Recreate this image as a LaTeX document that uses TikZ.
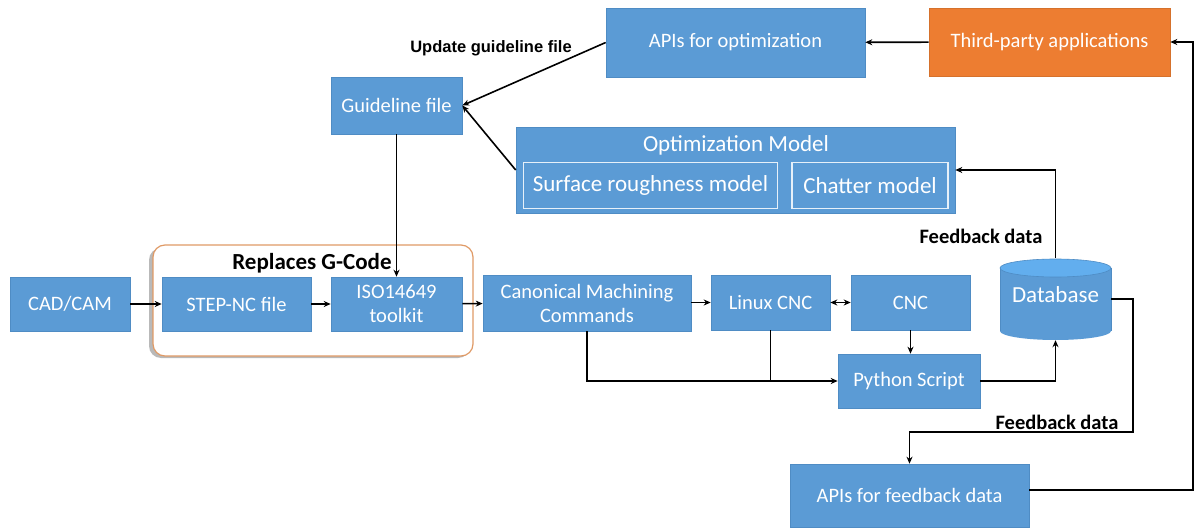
\documentclass[tikz,border=0pt]{standalone}
\usepackage{fontspec}
\setmainfont{Carlito}
\newfontfamily\labelsans{Liberation Sans}
\usetikzlibrary{arrows.meta,calc}
\definecolor{boxblue}{HTML}{5B9BD5}
\definecolor{boxedge}{HTML}{4F8CC4}
\definecolor{boxorange}{HTML}{ED7D31}
\definecolor{groupedge}{HTML}{E09A66}
\definecolor{dbtop}{HTML}{62AEEE}
\tikzset{
  blk/.style={fill=boxblue, draw=boxedge, line width=0.6pt, text=white, inner sep=0pt,
    align=center, font=\fontsize{20.5}{24}\selectfont},
  innerblk/.style={draw=white!85!boxblue, line width=1.6pt, fill=boxblue, text=white,
    inner sep=0pt, align=center, font=\fontsize{23}{26}\selectfont},
  conn/.style={draw=black, line width=1.6pt},
  arr/.style={conn, -{Stealth[length=7pt,width=6pt]}},
  boldlbl/.style={font=\bfseries\fontsize{20.5}{23}\selectfont, text=black, inner sep=0pt},
}
\begin{document}
\begin{tikzpicture}[x=1pt,y=-1pt]
\useasboundingbox (0,0) rectangle (1196,529);
\fill[white] (0,0) rectangle (1196,529);

% group frame around the STEP-NC chain
\fill[gray!55, rounded corners=12pt] (149,248) rectangle (470,358);
\draw[groupedge, line width=1.2pt, fill=white, rounded corners=12pt] (153,245) rectangle (473,356);
\node[font=\bfseries\fontsize{23}{26}\selectfont, inner sep=0pt] (grp) at (312,263) {Replaces G-Code};

% process chain
\node[blk, minimum width=120pt, minimum height=54pt] (cad) at (70,304) {CAD/CAM};
\node[blk, minimum width=149pt, minimum height=54pt] (step) at (236.5,304) {STEP-NC file};
\node[blk, minimum width=131pt, minimum height=54pt] (iso) at (396.5,304) {ISO14649\\toolkit};
\node[blk, minimum width=208pt, minimum height=56pt] (canon) at (587,303) {Canonical Machining\\Commands};
\node[blk, minimum width=119pt, minimum height=55pt] (linux) at (770.5,302.5) {Linux CNC};
\node[blk, minimum width=119pt, minimum height=55pt] (cnc) at (910.5,302.5) {CNC};
\node[blk, minimum width=142pt, minimum height=54pt] (py) at (909,381) {Python Script};
\node[blk, minimum width=239pt, minimum height=63pt] (fb) at (909.5,495.5) {APIs for feedback data};

% upper row
\node[blk, fill=boxorange, draw=boxorange!90!black, minimum width=241pt, minimum height=68pt] (third) at (1049.5,42) {Third-party applications};
\node[blk, minimum width=259pt, minimum height=69pt] (apiopt) at (735.5,42.5) {APIs for optimization};
\node[blk, minimum width=131pt, minimum height=57pt] (guide) at (396.5,105.5) {Guideline file};

% optimization model with its sub-models
\node[blk, minimum width=439pt, minimum height=86pt] (opt) at (735.5,170) {};
\node[text=white, font=\fontsize{23}{26}\selectfont, inner sep=0pt] (opttitle) at (736,145) {Optimization Model};
\node[innerblk, minimum width=254pt, minimum height=46pt] (surf) at (650.5,185.5) {Surface roughness model};
\node[innerblk, minimum width=156pt, minimum height=46pt] (chat) at (870,185.5) {Chatter model};

% database cylinder
\node[minimum width=111pt, minimum height=82pt, inner sep=0pt] (db) at (1055.5,299) {};
\fill[boxblue] (1000,268) rectangle (1111,331);
\fill[boxblue] (1055.5,331) ellipse [x radius=55.5, y radius=9];
\draw[boxedge, line width=0.6pt] (1000,268) -- (1000,331) (1111,268) -- (1111,331);
\draw[boxedge, line width=0.6pt, fill=dbtop] (1055.5,268) ellipse [x radius=55.5, y radius=9];
\node[text=white, font=\fontsize{23}{26}\selectfont, inner sep=0pt] (dbtext) at (1055.5,295) {Database};

% connector labels
\node[font=\labelsans\bfseries\fontsize{16.5}{19}\selectfont, inner sep=0pt] (lblupd) at (491,48) {Update guideline file};
\node[boldlbl] (lblfb1) at (981,236) {Feedback data};
\node[boldlbl] (lblfb2) at (1057,422) {Feedback data};

% connectors
\draw[arr] (cad) -- (step);
\draw[arr] (step) -- (iso);
\draw[arr] (iso) -- (canon);
\draw[arr] (canon.east |- linux.west) -- (linux.west);
\draw[conn, {Stealth[length=7pt,width=6pt]}-{Stealth[length=7pt,width=6pt]}] (linux) -- (cnc);
\draw[arr] (cnc.south) -- (cnc.south |- py.north);
\draw[arr] (canon.south) |- (py.west);
\draw[conn] (linux.south) -- (linux.south |- py.west);
\draw[arr] (py.east) -| (db.south);
\draw[arr] (db.north) |- (opt.east);
\coordinate (fbturn) at (1133,432);
\draw[arr] (db.east) -| (fbturn) -| (fb.north);
\coordinate (rightrail) at (1193,490);
\draw[arr] (fb.east |- rightrail) -- (rightrail) |- (third.east);
\draw[arr] (third) -- (apiopt);
\draw[arr] (apiopt.west) -- (guide.east);
\draw[arr] (opt.west) -- (guide.east);
\draw[arr] (guide.south) -- (iso.north);
\end{tikzpicture}
\end{document}
